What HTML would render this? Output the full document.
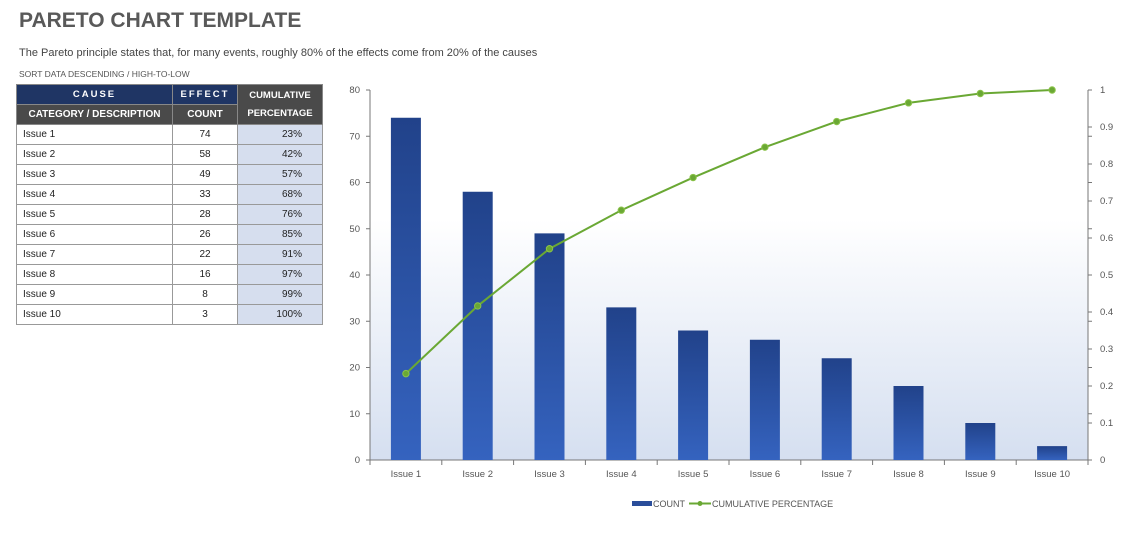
<!DOCTYPE html>
<html><head><meta charset="utf-8"><style>
body{margin:0;width:1144px;height:538px;background:#fff;font-family:"Liberation Sans",sans-serif;position:relative;overflow:hidden}
.t{position:absolute;left:19px;top:9px;font-size:21px;font-weight:bold;color:#595959}
.s{position:absolute;left:19px;top:47px;font-size:11px;color:#444}
.s2{position:absolute;left:19px;top:69px;font-size:8.5px;color:#555}
table{position:absolute;left:16px;top:84px;border-collapse:collapse;font-size:10px;color:#222}
td{border:1px solid #999;height:20px;padding:0 6px;box-sizing:border-box}
.h1 td{background:#1f3564;color:#fff;font-weight:bold;text-align:center;letter-spacing:2px;font-size:9.5px;border-color:#888}
.h2 td{background:#4a4a4a;color:#fff;font-weight:bold;text-align:center;font-size:10px;border-color:#888}
.pc{background:#4a4a4a!important;color:#fff;font-weight:bold;text-align:center;line-height:18px}
.c{text-align:center}.p{background:#d6deee;text-align:right;padding-right:20px}
</style></head><body>
<div class="t">PARETO CHART TEMPLATE</div>
<div class="s">The Pareto principle states that, for many events, roughly 80% of the effects come from 20% of the causes</div>
<div class="s2">SORT DATA DESCENDING / HIGH-TO-LOW</div>
<table>
<tr class="h1"><td style="width:156px;height:19px">CAUSE</td><td style="width:65px">EFFECT</td><td rowspan="2" class="pc" style="width:85px;letter-spacing:0">CUMULATIVE<br>PERCENTAGE</td></tr>
<tr class="h2"><td>CATEGORY / DESCRIPTION</td><td>COUNT</td></tr>
<tr><td>Issue 1</td><td class="c">74</td><td class="p">23%</td></tr>
<tr><td>Issue 2</td><td class="c">58</td><td class="p">42%</td></tr>
<tr><td>Issue 3</td><td class="c">49</td><td class="p">57%</td></tr>
<tr><td>Issue 4</td><td class="c">33</td><td class="p">68%</td></tr>
<tr><td>Issue 5</td><td class="c">28</td><td class="p">76%</td></tr>
<tr><td>Issue 6</td><td class="c">26</td><td class="p">85%</td></tr>
<tr><td>Issue 7</td><td class="c">22</td><td class="p">91%</td></tr>
<tr><td>Issue 8</td><td class="c">16</td><td class="p">97%</td></tr>
<tr><td>Issue 9</td><td class="c">8</td><td class="p">99%</td></tr>
<tr><td>Issue 10</td><td class="c">3</td><td class="p">100%</td></tr>
</table>
<svg width="1144" height="538" style="position:absolute;left:0;top:0" font-family="Liberation Sans, sans-serif" font-size="9.5" fill="#555">
<defs>
<linearGradient id="bg" x1="0" y1="0" x2="0" y2="1"><stop offset="0.35" stop-color="#fff"/><stop offset="1" stop-color="#d5dff0"/></linearGradient>
<linearGradient id="bar" x1="0" y1="0" x2="0" y2="1"><stop offset="0" stop-color="#21428a"/><stop offset="1" stop-color="#3563bf"/></linearGradient>
</defs>
<rect x="370" y="90" width="718" height="370" fill="url(#bg)"/>
<g stroke="#777" stroke-width="1">
<line x1="370" y1="90" x2="370" y2="460"/><line x1="1088" y1="90" x2="1088" y2="460"/><line x1="366" y1="460" x2="1092" y2="460"/>
</g>
<g id="ticks" stroke="#777"></g>
<g id="lab"></g>
<g id="bars"></g>
<polyline id="ln" fill="none" stroke="#6aa834" stroke-width="2"/>
<g id="pts" fill="#6aa834" stroke="#8bc34a" stroke-width="1"></g>
<rect x="632" y="501" width="20" height="5" fill="#2a4d9a"/>
<text x="653" y="507" font-size="9">COUNT</text>
<line x1="689" y1="503.5" x2="711" y2="503.5" stroke="#6aa834" stroke-width="2"/><circle cx="700" cy="503.5" r="2.5" fill="#6aa834"/>
<text x="712" y="507" font-size="9">CUMULATIVE PERCENTAGE</text>
</svg>
<script>
var ns="http://www.w3.org/2000/svg",d=[74,58,49,33,28,26,22,16,8,3],tot=317,cum=0,pts=[];
function el(p,t,a,txt){var e=document.createElementNS(ns,t);for(var k in a)e.setAttribute(k,a[k]);if(txt!=null)e.textContent=txt;document.getElementById(p).appendChild(e);}
for(var i=0;i<=8;i++){var y=460-i*46.25;el("ticks","line",{x1:366,y1:y,x2:370,y2:y});el("ticks","line",{x1:1088,y1:y,x2:1092,y2:y});
el("lab","text",{x:360,y:y+3,"text-anchor":"end"},i*10);}
for(var i=0;i<=10;i++){var y=460-i*37;el("ticks","line",{x1:1088,y1:y,x2:1092,y2:y});el("lab","text",{x:1100,y:y+3},i==0?"0":i==10?"1":"0."+i);
var x=370+i*71.8;el("ticks","line",{x1:x,y1:460,x2:x,y2:465});}
d.forEach(function(v,i){var cx=370+71.8*(i+0.5);el("bars","rect",{x:cx-15,y:460-v*4.625,width:30,height:v*4.625,fill:"url(#bar)"});
el("lab","text",{x:cx,y:477,"text-anchor":"middle"},"Issue "+(i+1));cum+=v;var py=460-370*cum/tot;pts.push(cx+","+py);el("pts","circle",{cx:cx,cy:py,r:3.2});});
document.getElementById("ln").setAttribute("points",pts.join(" "));
</script>
</body></html>
